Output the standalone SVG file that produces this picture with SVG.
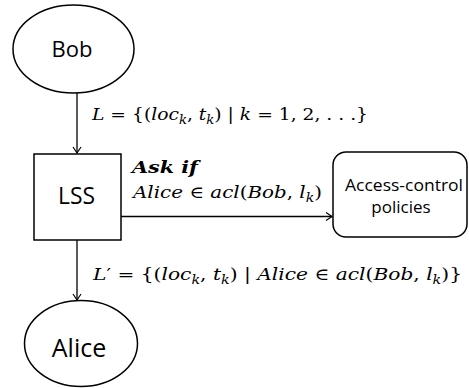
<svg xmlns="http://www.w3.org/2000/svg" width="469" height="388" viewBox="0 0 469 388">
<defs>
<marker id="arr" markerWidth="10" markerHeight="10" refX="8" refY="5" orient="auto" markerUnits="userSpaceOnUse">
<path d="M2,1 L8,5 L2,9" fill="none" stroke="#000" stroke-width="1.2"/>
</marker>
<style>
.shape{fill:#fff;stroke:#000;stroke-width:1.5}
.lbl{font-family:"Open Sans","Liberation Sans",sans-serif;fill:#000;text-anchor:middle}
.lbs{font-family:"Open Sans","Liberation Sans",sans-serif;fill:#000}
.math{font-family:"DejaVu Serif","Liberation Serif",serif;font-size:17px;fill:#000}
.i{font-style:italic}
.sub{font-style:italic;font-size:12px}
.edge{stroke:#000;stroke-width:1.3;fill:none}
</style>
</defs>
<g id="connectors">
<line class="edge" x1="77" y1="93" x2="77" y2="153" marker-end="url(#arr)"/>
<line class="edge" x1="121" y1="216.5" x2="332" y2="216.5" marker-end="url(#arr)"/>
<line class="edge" x1="77" y1="240" x2="77" y2="300" marker-end="url(#arr)"/>
</g>
<g id="bob">
<ellipse class="shape" cx="73.5" cy="49" rx="60.5" ry="44"/>
<text class="lbl" x="72" y="57" font-size="22">Bob</text>
</g>
<g id="lss">
<rect class="shape" x="34" y="154" width="87" height="86"/>
<text class="lbs" x="58" y="204" font-size="23" textLength="37" lengthAdjust="spacingAndGlyphs">LSS</text>
</g>
<g id="acp">
<rect class="shape" x="333" y="152" width="134" height="85" rx="13"/>
<text class="lbs" x="345" y="191" font-size="17" textLength="118" lengthAdjust="spacingAndGlyphs">Access-control</text>
<text class="lbl" x="401" y="213" font-size="17">policies</text>
</g>
<g id="alice">
<ellipse class="shape" cx="81" cy="343.5" rx="56.5" ry="43"/>
<text class="lbl" x="79" y="357" font-size="25">Alice</text>
</g>
<g id="labels">
<text class="math" x="92" y="120" textLength="276" lengthAdjust="spacingAndGlyphs"><tspan class="i">L</tspan> = {(<tspan class="i">loc</tspan><tspan class="sub" dy="4">k</tspan><tspan dy="-4">, </tspan><tspan class="i">t</tspan><tspan class="sub" dy="4">k</tspan><tspan dy="-4">) | </tspan><tspan class="i">k</tspan> = 1, 2, . . .}</text>
<text class="math" x="132" y="173" font-weight="bold" font-style="italic" font-size="18" textLength="66" lengthAdjust="spacingAndGlyphs">Ask if</text>
<text class="math" x="133" y="198" textLength="189" lengthAdjust="spacingAndGlyphs"><tspan class="i">Alice</tspan> ∈ <tspan class="i">acl</tspan>(<tspan class="i">Bob</tspan>, <tspan class="i">l</tspan><tspan class="sub" dy="4">k</tspan><tspan dy="-4">)</tspan></text>
<text class="math" x="93" y="280" textLength="369" lengthAdjust="spacingAndGlyphs"><tspan class="i">L</tspan>′ = {(<tspan class="i">loc</tspan><tspan class="sub" dy="4">k</tspan><tspan dy="-4">, </tspan><tspan class="i">t</tspan><tspan class="sub" dy="4">k</tspan><tspan dy="-4">) | </tspan><tspan class="i">Alice</tspan> ∈ <tspan class="i">acl</tspan>(<tspan class="i">Bob</tspan>, <tspan class="i">l</tspan><tspan class="sub" dy="4">k</tspan><tspan dy="-4">)}</tspan></text>
</g>
</svg>
